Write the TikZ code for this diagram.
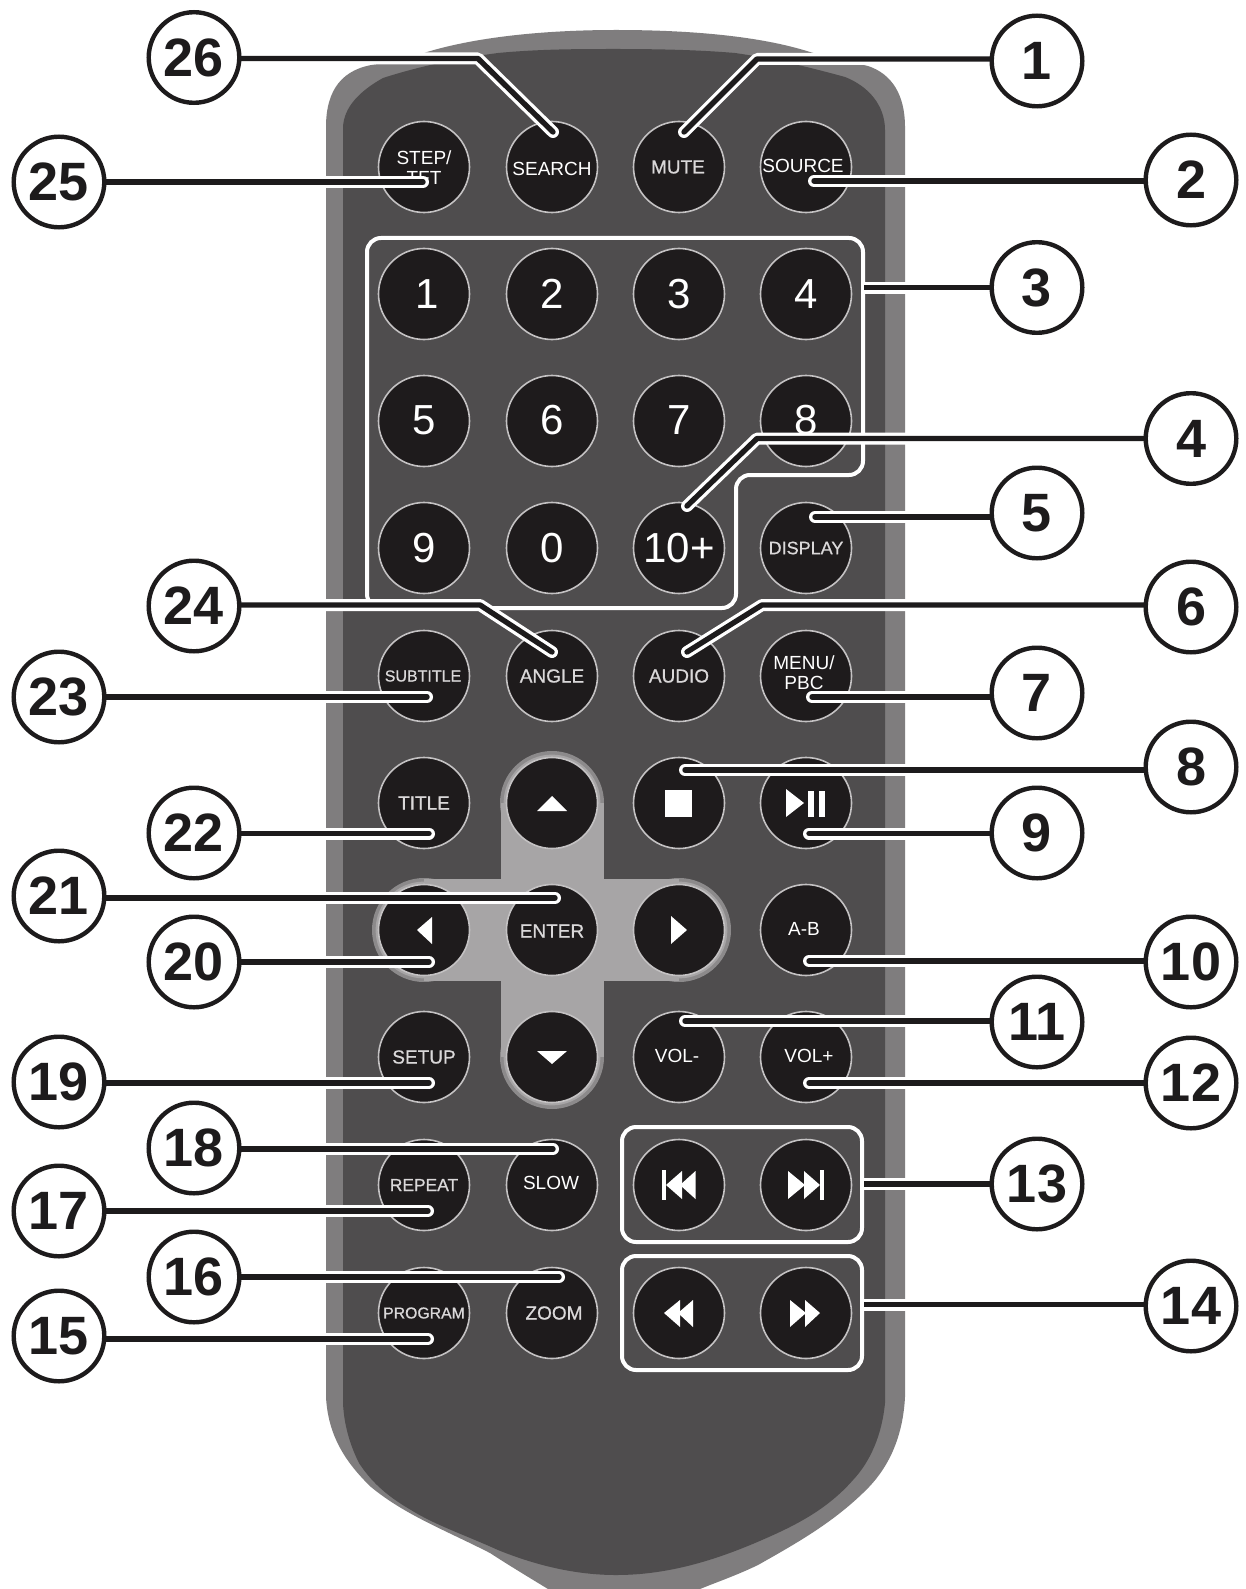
\documentclass[tikz,border=0pt]{standalone}
\usepackage{fontspec}
\setmainfont{Liberation Sans}
\newfontfamily\semibold[FakeBold=0.7]{Liberation Sans}
\pgfdeclarelayer{casing}
\pgfdeclarelayer{leaders}
\pgfsetlayers{casing,leaders,main}
\definecolor{shell}{HTML}{7F7D7E}
\definecolor{face}{HTML}{4F4D4E}
\definecolor{pad}{HTML}{A7A5A6}
\definecolor{padrim}{HTML}{8C8A8B}
\definecolor{keyfill}{HTML}{1E1B1C}
\definecolor{keyedge}{HTML}{C4C2C3}
\definecolor{softtext}{HTML}{DAD8D9}
\definecolor{inkline}{HTML}{1D1B1C}
\tikzset{
  x=0.5pt, y=-0.5pt,
  keycap/.style={circle, draw=keyedge, fill=keyfill, line width=0.8pt, minimum size=45.5pt, inner sep=0pt},
  keytext/.style={text=white, font=\fontsize{9.5}{10}\selectfont, inner sep=0pt, align=center},
  softkey/.style={text=softtext, font=\semibold\fontsize{9.5}{10}\selectfont, inner sep=0pt},
  digitkey/.style={text=white, font=\fontsize{21}{24}\selectfont, inner sep=0pt},
  glyph/.style={fill=white, draw=none},
  groupframe/.style={draw=white, line width=2pt, rounded corners=7pt},
  leader/.style={draw=white, line width=6pt, line cap=round, line join=round,
    postaction={draw=inkline, line width=2.7pt}},
  callout/.style={circle, draw=inkline, fill=white, line width=2.2pt, minimum size=45.3pt, inner sep=0pt,
    font=\bfseries\fontsize{27}{30}\selectfont, text=inkline},
}
\begin{document}
\begin{tikzpicture}
\useasboundingbox (0,0) rectangle (1246,1589);

\begin{pgfonlayer}{casing}
\fill[white] (0,0) rectangle (1246,1589);
% remote control shell and face
\fill[shell] (326,127) .. controls (326,90) and (342,68) .. (378,64)
  .. controls (395,62) and (412,58) .. (427,52)
  .. controls (480,36) and (550,30) .. (616,30)
  .. controls (690,30) and (760,36) .. (810,52)
  .. controls (830,58) and (850,62) .. (868,66)
  .. controls (892,74) and (905,95) .. (905,127)
  -- (905,1397)
  .. controls (903,1435) and (890,1465) .. (869,1487)
  .. controls (835,1522) and (795,1544) .. (758,1565)
  .. controls (735,1576) and (717,1582) .. (700,1589)
  -- (548,1589)
  .. controls (530,1578) and (510,1566) .. (490,1553)
  .. controls (445,1530) and (405,1515) .. (371,1487)
  .. controls (345,1462) and (328,1435) .. (326,1397) -- cycle;
\fill[face] (343,127) .. controls (344,108) and (358,92) .. (383,78)
  .. controls (420,66) and (460,58) .. (498,53)
  .. controls (540,49) and (580,49) .. (616,49)
  .. controls (660,49) and (700,50) .. (735,53)
  .. controls (770,58) and (805,66) .. (845,77)
  .. controls (868,86) and (885,105) .. (885,130)
  -- (885,1403)
  .. controls (882,1435) and (870,1462) .. (853,1480)
  .. controls (825,1512) and (790,1528) .. (755,1543)
  .. controls (710,1562) and (665,1575) .. (616,1575)
  .. controls (575,1575) and (535,1565) .. (498,1550)
  .. controls (465,1535) and (435,1525) .. (411,1510)
  .. controls (385,1495) and (370,1480) .. (359,1463)
  .. controls (350,1445) and (344,1425) .. (343,1403) -- cycle;

% direction pad
\foreach \cx/\cy in {552/803, 552/1057, 424/930, 679/930} {
  \fill[padrim] (\cx,\cy) circle[radius=26pt];
}
\fill[pad] (501,803) rectangle (604,1057);
\fill[pad] (424,879) rectangle (679,981);
\foreach \cx/\cy in {552/803, 552/1057, 424/930, 679/930} {
  \fill[pad] (\cx,\cy) circle[radius=24.2pt];
}

% group frames
\draw[groupframe] (367,238) -- (863,238) -- (863,475) -- (736,475) -- (736,608) -- (367,608) -- cycle;
\draw[groupframe] (622,1127) rectangle (862,1242);
\draw[groupframe] (622,1256) rectangle (862,1370);

% keys, row by row
\node[keycap] (kStep) at (424,167) {};
\node[keycap] (kSearch) at (552,167) {};
\node[keycap] (kMute) at (679,167) {};
\node[keycap] (kSource) at (806,167) {};
\node[keycap] (kOne) at (424,294) {};
\node[keycap] (kTwo) at (552,294) {};
\node[keycap] (kThree) at (679,294) {};
\node[keycap] (kFour) at (806,294) {};
\node[keycap] (kFive) at (424,421) {};
\node[keycap] (kSix) at (552,421) {};
\node[keycap] (kSeven) at (679,421) {};
\node[keycap] (kEight) at (806,421) {};
\node[keycap] (kNine) at (424,548) {};
\node[keycap] (kZero) at (552,548) {};
\node[keycap] (kTen) at (679,548) {};
\node[keycap] (kDisplay) at (806,548) {};
\node[keycap] (kSubtitle) at (424,676) {};
\node[keycap] (kAngle) at (552,676) {};
\node[keycap] (kAudio) at (679,676) {};
\node[keycap] (kMenu) at (806,676) {};
\node[keycap] (kTitle) at (424,803) {};
\node[keycap] (kUp) at (552,803) {};
\node[keycap] (kStop) at (679,803) {};
\node[keycap] (kPlay) at (806,803) {};
\node[keycap] (kLeft) at (424,930) {};
\node[keycap] (kEnter) at (552,930) {};
\node[keycap] (kRight) at (679,930) {};
\node[keycap] (kAB) at (806,930) {};
\node[keycap] (kSetup) at (424,1057) {};
\node[keycap] (kDown) at (552,1057) {};
\node[keycap] (kVolDn) at (679,1057) {};
\node[keycap] (kVolUp) at (806,1057) {};
\node[keycap] (kRepeat) at (424,1185) {};
\node[keycap] (kSlow) at (552,1185) {};
\node[keycap] (kPrev) at (679,1185) {};
\node[keycap] (kNext) at (806,1185) {};
\node[keycap] (kProgram) at (424,1313) {};
\node[keycap] (kZoom) at (552,1313) {};
\node[keycap] (kRew) at (679,1313) {};
\node[keycap] (kFwd) at (806,1313) {};

% key captions
\node[keytext] (tStep) at (424,168) {STEP/\\TFT};
\node[keytext] (tSearch) at (552,169) {SEARCH};
\node[softkey] (tMute) at (678,167) {MUTE};
\node[keytext] (tSource) at (803,166) {SOURCE};
\node[digitkey] (tOne) at (427,294) {1};
\node[digitkey] (tTwo) at (552,294) {2};
\node[digitkey] (tThree) at (679,294) {3};
\node[digitkey] (tFour) at (806,294) {4};
\node[digitkey] (tFive) at (424,420) {5};
\node[digitkey] (tSix) at (552,420) {6};
\node[digitkey] (tSeven) at (679,420) {7};
\node[digitkey] (tEight) at (806,420) {8};
\node[digitkey] (tNine) at (424,548) {9};
\node[digitkey] (tZero) at (552,548) {0};
\node[digitkey] (tTen) at (679,548) {10+};
\node[softkey, font=\semibold\fontsize{9}{10}\selectfont] (tDisplay) at (806,548) {DISPLAY};
\node[softkey, font=\semibold\fontsize{8}{10}\selectfont] (tSubtitle) at (423,676) {SUBTITLE};
\node[softkey] (tAngle) at (552,676) {ANGLE};
\node[softkey] (tAudio) at (679,676) {AUDIO};
\node[keytext] (tMenu) at (804,673) {MENU/\\PBC};
\node[softkey] (tTitle) at (424,803) {TITLE};
\node[softkey] (tEnter) at (552,931) {ENTER};
\node[keytext] (tAB) at (804,929) {A-B};
\node[softkey] (tSetup) at (424,1057) {SETUP};
\node[keytext] (tVolDn) at (677,1056) {VOL-};
\node[keytext] (tVolUp) at (809,1056) {VOL+};
\node[softkey, font=\semibold\fontsize{8.7}{10}\selectfont] (tRepeat) at (424,1185) {REPEAT};
\node[keytext] (tSlow) at (551,1183) {SLOW};
\node[softkey, font=\semibold\fontsize{7.9}{10}\selectfont] (tProgram) at (424,1313) {PROGRAM};
\node[softkey] (tZoom) at (554,1313) {ZOOM};

% transport and navigation symbols
\fill[glyph] (552,796) -- (567,811) -- (537,811) -- cycle;
\fill[glyph] (552,1064) -- (567,1051) -- (537,1051) -- cycle;
\fill[glyph] (417,930) -- (432,917) -- (432,944) -- cycle;
\fill[glyph] (687,930) -- (671,916) -- (671,944) -- cycle;
\fill[glyph] (665,790) rectangle (692,817);
\fill[glyph] (786,789) -- (804,803) -- (786,817) -- cycle;
\fill[glyph] (808.3,790.5) rectangle (814,817);
\fill[glyph] (819,790.5) rectangle (825,817);
\fill[glyph] (662,1170) rectangle (665.5,1200);
\fill[glyph] (666,1185) -- (682,1171) -- (682,1199) -- cycle;
\fill[glyph] (680,1185) -- (695.5,1171) -- (695.5,1199) -- cycle;
\fill[glyph] (788,1171) -- (805,1185) -- (788,1199) -- cycle;
\fill[glyph] (804,1171) -- (820,1185) -- (804,1199) -- cycle;
\fill[glyph] (820,1170) rectangle (823.5,1200);
\fill[glyph] (664,1313) -- (680,1300) -- (680,1327) -- cycle;
\fill[glyph] (678,1313) -- (693,1300) -- (693,1327) -- cycle;
\fill[glyph] (790,1300) -- (806,1313) -- (790,1327) -- cycle;
\fill[glyph] (805,1300) -- (820,1313) -- (805,1327) -- cycle;
\end{pgfonlayer}

% numbered callouts
\node[callout] (n1) at (1037,61) {1};
\node[callout] (n2) at (1191,180) {2};
\node[callout] (n3) at (1037,287.5) {3};
\node[callout] (n4) at (1191,438.5) {4};
\node[callout] (n5) at (1037,513) {5};
\node[callout] (n6) at (1191,607) {6};
\node[callout] (n7) at (1037,693) {7};
\node[callout] (n8) at (1191,767) {8};
\node[callout] (n9) at (1037,833) {9};
\node[callout] (n10) at (1191,962) {10};
\node[callout] (n11) at (1037,1022) {11};
\node[callout] (n12) at (1191,1083) {12};
\node[callout] (n13) at (1037,1184) {13};
\node[callout] (n14) at (1191,1306) {14};
\node[callout] (n15) at (59,1336) {15};
\node[callout] (n16) at (194,1277) {16};
\node[callout] (n17) at (59,1211) {17};
\node[callout] (n18) at (194,1148) {18};
\node[callout] (n19) at (59,1082) {19};
\node[callout] (n20) at (194,962) {20};
\node[callout] (n21) at (59,896) {21};
\node[callout] (n22) at (194,833) {22};
\node[callout] (n23) at (59,697) {23};
\node[callout] (n24) at (194,606) {24};
\node[callout] (n25) at (59,182) {25};
\node[callout] (n26) at (194,57.5) {26};

% end points of the leaders on their keys
\coordinate (e1) at (684,132);   \coordinate (b1) at (757,59);
\coordinate (e2) at (814,181);
\coordinate (e3) at (864,287.5);
\coordinate (e4) at (687,506);   \coordinate (b4) at (757,438.5);
\coordinate (e5) at (815,517);
\coordinate (e6) at (687,652);   \coordinate (b6) at (762,605);
\coordinate (e7) at (812,697);
\coordinate (e8) at (685,770);
\coordinate (e9) at (809,833.5);
\coordinate (e10) at (809,961);
\coordinate (e11) at (685,1021);
\coordinate (e12) at (809,1083);
\coordinate (e13) at (864,1184);
\coordinate (e14) at (864,1304.5);
\coordinate (e15) at (428,1339);
\coordinate (e16) at (559,1277);
\coordinate (e17) at (428,1211);
\coordinate (e18) at (553,1149);
\coordinate (e19) at (429,1083);
\coordinate (e20) at (429,962);
\coordinate (e21) at (555,898);
\coordinate (e22) at (429,833.5);
\coordinate (e23) at (427,697);
\coordinate (e24) at (552,652);  \coordinate (b24) at (480,605);
\coordinate (e25) at (423,182);
\coordinate (e26) at (553,132);  \coordinate (b26) at (478,58.5);

% leaders run under the callout circles
\begin{pgfonlayer}{leaders}
\draw[leader] (n1 |- b1) -- (b1) -- (e1);
\draw[leader] (n2 |- e2) -- (e2);
\draw[leader, line cap=butt] (n3 |- e3) -- (e3);
\draw[leader] (n4 |- b4) -- (b4) -- (e4);
\draw[leader] (n5 |- e5) -- (e5);
\draw[leader] (n6 |- b6) -- (b6) -- (e6);
\draw[leader] (n7 |- e7) -- (e7);
\draw[leader] (n8 |- e8) -- (e8);
\draw[leader] (n9 |- e9) -- (e9);
\draw[leader] (n10 |- e10) -- (e10);
\draw[leader] (n11 |- e11) -- (e11);
\draw[leader] (n12 |- e12) -- (e12);
\draw[leader, line cap=butt] (n13 |- e13) -- (e13);
\draw[leader, line cap=butt] (n14 |- e14) -- (e14);
\draw[leader] (n15 |- e15) -- (e15);
\draw[leader] (n16 |- e16) -- (e16);
\draw[leader] (n17 |- e17) -- (e17);
\draw[leader] (n18 |- e18) -- (e18);
\draw[leader] (n19 |- e19) -- (e19);
\draw[leader] (n20 |- e20) -- (e20);
\draw[leader] (n21 |- e21) -- (e21);
\draw[leader] (n22 |- e22) -- (e22);
\draw[leader] (n23 |- e23) -- (e23);
\draw[leader] (n24 |- b24) -- (b24) -- (e24);
\draw[leader] (n25 |- e25) -- (e25);
\draw[leader] (n26 |- b26) -- (b26) -- (e26);
\end{pgfonlayer}
\end{tikzpicture}
\end{document}
